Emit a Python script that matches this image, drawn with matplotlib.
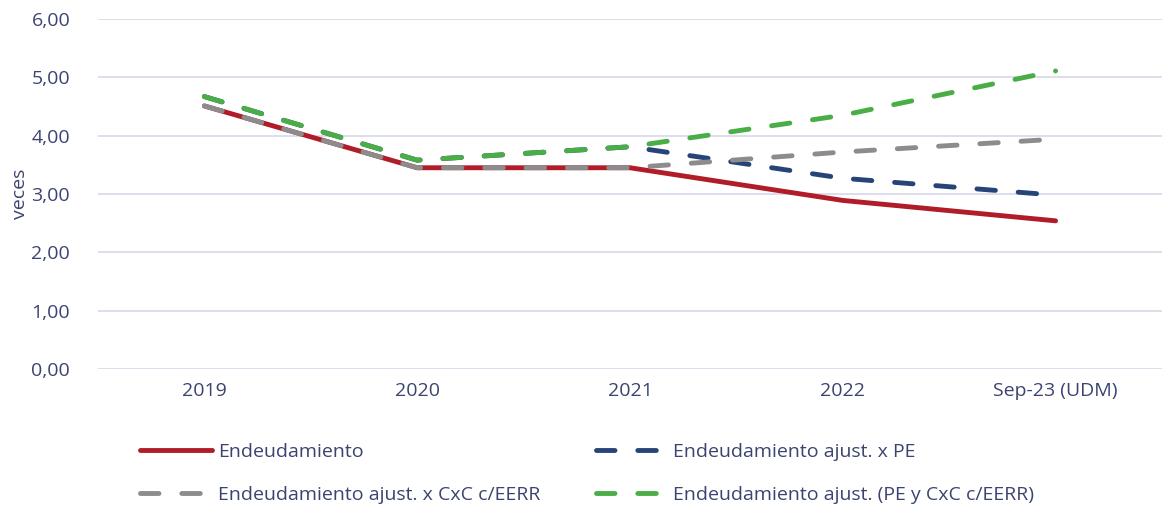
import matplotlib
matplotlib.use("Agg")
import matplotlib.pyplot as plt

plt.rcParams['font.family'] = ['Open Sans', 'DejaVu Sans']

years = ["2019", "2020", "2021", "2022", "Sep-23 (UDM)"]
endeud = [4.51, 3.45, 3.45, 2.89, 2.54]
endeud_pe = [4.67, 3.58, 3.81, 3.27, 2.98]
endeud_cxc = [4.51, 3.45, 3.45, 3.72, 3.94]
endeud_pe_cxc = [4.67, 3.58, 3.81, 4.35, 5.11]

txt = '#3b4470'
x = range(len(years))

fig = plt.figure(figsize=(11.62, 5.08), dpi=100)
ax = fig.add_axes([0.0843, 0.2736, 0.9157, 0.689])

lw = 3.5
dsh = (3.8, 4.7)
l1, = ax.plot(x, endeud, color='#b01c27', lw=lw, solid_capstyle='round',
              solid_joinstyle='round', label='Endeudamiento', zorder=3)
l2, = ax.plot(x, endeud_pe, color='#264478', lw=lw, dashes=dsh, dash_capstyle='round',
              label='Endeudamiento ajust. x PE', zorder=4)
l3, = ax.plot(x, endeud_cxc, color='#8c8c8c', lw=lw, dashes=dsh, dash_capstyle='round',
              label='Endeudamiento ajust. x CxC c/EERR', zorder=5)
l4, = ax.plot(x, endeud_pe_cxc, color='#4aae47', lw=lw, dashes=dsh, dash_capstyle='round',
              label='Endeudamiento ajust. (PE y CxC c/EERR)', zorder=6)

ax.set_xlim(-0.5, 4.5)
ax.set_ylim(0, 6)
ax.set_yticks([0, 1, 2, 3, 4, 5, 6])
ax.set_yticklabels([('%.2f' % v).replace('.', ',') for v in range(7)])
ax.set_xticks(list(x))
ax.set_xticklabels(years)
ax.grid(axis='y', color='#d9dbe9', lw=1.3)
ax.set_axisbelow(True)
for s in ax.spines.values():
    s.set_visible(False)
ax.tick_params(length=0, labelsize=14, colors=txt, pad=9)
ax.tick_params(axis='y', pad=20)
ax.set_ylabel('veces', color=txt, fontsize=14, labelpad=2)

leg = fig.legend([l1, l3, l2, l4], [l1.get_label(), l3.get_label(), l2.get_label(), l4.get_label()],
                 ncol=2, loc='upper left', bbox_to_anchor=(140 / 1162, 0.128), frameon=False,
                 borderpad=0, borderaxespad=0,
                 fontsize=14, handlelength=3.7, handletextpad=0.3, columnspacing=2.85,
                 labelspacing=1.3, labelcolor=txt)

fig.savefig('out.png', dpi=100)
